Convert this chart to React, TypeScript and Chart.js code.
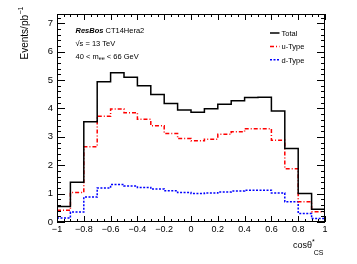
import React, { useEffect, useRef } from "react";
import { Chart, registerables } from "chart.js";

Chart.register(...registerables);

const binEdges = [-1, -0.9, -0.8, -0.7, -0.6, -0.5, -0.4, -0.3, -0.2, -0.1, 0, 0.1, 0.2, 0.3, 0.4, 0.5, 0.6, 0.7, 0.8, 0.9, 1];
const totalValues = [0.55, 1.4, 3.53, 4.94, 5.26, 5.1, 4.8, 4.49, 4.18, 3.95, 3.87, 3.99, 4.15, 4.27, 4.39, 4.4, 3.91, 2.59, 1.0, 0.45];
const uTypeValues = [0.41, 1.04, 2.65, 3.73, 3.98, 3.85, 3.62, 3.39, 3.12, 2.94, 2.86, 2.92, 3.09, 3.18, 3.29, 3.29, 2.88, 1.88, 0.71, 0.36];
const dTypeValues = [0.14, 0.35, 0.88, 1.2, 1.32, 1.27, 1.22, 1.16, 1.1, 1.04, 1.0, 1.02, 1.06, 1.09, 1.12, 1.12, 1.02, 0.71, 0.3, 0.12];

const seriesNames = ["Total", "u-Type", "d-Type"];
const seriesColors = ["#000000", "#ff0000", "#0000ff"];
const seriesDashes = [[], [4, 2, 1, 2], [2, 1.5]];

const xTickValues = [-1, -0.8, -0.6, -0.4, -0.2, 0, 0.2, 0.4, 0.6, 0.8, 1];
const xTickLabels = ["\u22121", "\u22120.8", "\u22120.6", "\u22120.4", "\u22120.2", "0", "0.2", "0.4", "0.6", "0.8", "1"];
const yTickValues = [0, 1, 2, 3, 4, 5, 6, 7];
const yTickLabels = ["0", "1", "2", "3", "4", "5", "6", "7"];

const X_MIN = -1;
const X_MAX = 1;
const Y_MIN = 0;
const Y_MAX = 7.33;

const FONT = "'Liberation Sans', Arial, Helvetica, sans-serif";

function toSteps(values: number[]) {
  return binEdges.map((e, i) => ({ x: e, y: values[Math.min(i, values.length - 1)] }));
}

const decorPlugin = {
  id: "decor",
  afterDraw(chart: any) {
    const ctx = chart.ctx as CanvasRenderingContext2D;
    const area = chart.chartArea;
    const xs = chart.scales.x;
    const ys = chart.scales.y;
    ctx.save();
    // frame
    ctx.strokeStyle = "#000";
    ctx.lineWidth = 1;
    ctx.setLineDash([]);
    ctx.strokeRect(area.left + 0.5, area.top + 0.5, area.right - area.left - 1, area.bottom - area.top - 1);

    // x ticks (inward, bottom and top)
    ctx.beginPath();
    for (let k = 0; k <= 40; k++) {
      const v = X_MIN + k * 0.05;
      const px = Math.round(xs.getPixelForValue(v)) + 0.5;
      const major = k % 4 === 0;
      const len = major ? 6 : 3;
      ctx.moveTo(px, area.bottom);
      ctx.lineTo(px, area.bottom - len);
      ctx.moveTo(px, area.top);
      ctx.lineTo(px, area.top + len);
    }
    // y ticks (inward, left and right)
    for (let k = 0; k * 0.2 <= Y_MAX + 1e-9; k++) {
      const v = k * 0.2;
      const py = Math.round(ys.getPixelForValue(v)) + 0.5;
      const major = k % 5 === 0;
      const len = major ? 8 : 4;
      ctx.moveTo(area.left, py);
      ctx.lineTo(area.left + len, py);
      ctx.moveTo(area.right, py);
      ctx.lineTo(area.right - len, py);
    }
    ctx.stroke();

    ctx.fillStyle = "#000";
    ctx.textBaseline = "alphabetic";
    ctx.textAlign = "left";

    // annotation text
    let x = 75.5;
    ctx.font = `italic bold 7.5px ${FONT}`;
    ctx.fillText("ResBos", x, 33);
    x += ctx.measureText("ResBos").width;
    ctx.font = `7.5px ${FONT}`;
    ctx.fillText(" CT14Hera2", x, 33);

    ctx.font = `7.5px ${FONT}`;
    ctx.fillText("\u221As = 13 TeV", 75.5, 46);

    let x3 = 75.5;
    ctx.fillText("40 < m", x3, 58.5);
    x3 += ctx.measureText("40 < m").width;
    ctx.font = `5.5px ${FONT}`;
    ctx.fillText("ee", x3, 60);
    x3 += ctx.measureText("ee").width;
    ctx.font = `7.5px ${FONT}`;
    ctx.fillText(" < 66 GeV", x3, 58.5);

    // legend
    const legendBase = [35.7, 49.3, 62.5];
    chart.data.datasets.forEach((ds: any, i: number) => {
      const by = legendBase[i];
      ctx.beginPath();
      ctx.strokeStyle = ds.borderColor;
      ctx.lineWidth = 1.5;
      ctx.setLineDash(ds.borderDash || []);
      ctx.moveTo(270, by - 2.7);
      ctx.lineTo(279.5, by - 2.7);
      ctx.stroke();
      ctx.setLineDash([]);
      ctx.fillStyle = "#000";
      ctx.font = `7.5px ${FONT}`;
      ctx.fillText(ds.label, 281.5, by);
    });

    // x axis title: cosθ*_CS, right aligned to frame
    ctx.fillStyle = "#000";
    ctx.font = `9px ${FONT}`;
    const main = "cos\u03B8";
    const wMain = ctx.measureText(main).width;
    ctx.font = `7px ${FONT}`;
    const wStar = ctx.measureText("*").width;
    const wCS = ctx.measureText("CS").width;
    const xEnd = 323.5;
    const xStartCS = xEnd - wCS;
    const xStart = xStartCS - wMain - wStar + 1;
    ctx.font = `9px ${FONT}`;
    ctx.fillText(main, xStart, 247.7);
    ctx.font = `7px ${FONT}`;
    ctx.fillText("*", xStart + wMain, 244);
    ctx.fillText("CS", xStartCS, 254.5);

    // y axis title: Events/pb^-1, rotated, aligned at top
    ctx.save();
    ctx.translate(27.5, 15);
    ctx.rotate(-Math.PI / 2);
    ctx.font = `10px ${FONT}`;
    const ev = "Events/pb";
    const wEv = ctx.measureText(ev).width;
    ctx.fillText(ev, -wEv, 0);
    ctx.font = `7px ${FONT}`;
    ctx.fillText("\u22121", 0.5, -4.5);
    ctx.restore();

    ctx.restore();
  },
};

export default function App() {
  const canvasRef = useRef<HTMLCanvasElement | null>(null);

  useEffect(() => {
    const canvas = canvasRef.current;
    if (!canvas) return;
    const valuesList = [totalValues, uTypeValues, dTypeValues];
    const chart = new Chart(canvas, {
      type: "line",
      data: {
        datasets: valuesList.map((vals, i) => ({
          label: seriesNames[i],
          data: toSteps(vals),
          stepped: "before" as const,
          borderColor: seriesColors[i],
          borderDash: seriesDashes[i],
          borderWidth: 1.5,
          pointRadius: 0,
          fill: false,
          tension: 0,
        })),
      },
      options: {
        responsive: false,
        maintainAspectRatio: false,
        animation: false,
        devicePixelRatio: 1,
        layout: { padding: { left: 0, top: 14, right: 32, bottom: 0 } },
        plugins: {
          legend: { display: false },
          tooltip: { enabled: false },
          title: { display: false },
        },
        scales: {
          x: {
            type: "linear",
            min: X_MIN,
            max: X_MAX,
            border: { display: false },
            grid: { display: false, drawTicks: false },
            afterBuildTicks: (scale: any) => {
              scale.ticks = xTickValues.map((v) => ({ value: v }));
            },
            afterFit: (scale: any) => {
              scale.height = 42;
            },
            ticks: {
              autoSkip: false,
              maxRotation: 0,
              minRotation: 0,
              padding: 2,
              color: "#000",
              font: { family: FONT, size: 9 },
              callback: (_v: any, index: number) => xTickLabels[index],
            },
          },
          y: {
            type: "linear",
            min: Y_MIN,
            max: Y_MAX,
            border: { display: false },
            grid: { display: false, drawTicks: false },
            afterBuildTicks: (scale: any) => {
              scale.ticks = yTickValues.map((v) => ({ value: v }));
            },
            afterFit: (scale: any) => {
              scale.width = 57;
            },
            ticks: {
              autoSkip: false,
              padding: 4,
              color: "#000",
              font: { family: FONT, size: 9.5 },
              callback: (_v: any, index: number) => yTickLabels[index],
            },
          },
        },
      },
      plugins: [decorPlugin],
    } as any);
    return () => chart.destroy();
  }, []);

  return (
    <div style={{ position: "fixed", left: 0, top: 0, width: 357, height: 264, background: "#fff" }}>
      <canvas ref={canvasRef} width={357} height={264} style={{ display: "block", width: 357, height: 264 }} />
    </div>
  );
}
